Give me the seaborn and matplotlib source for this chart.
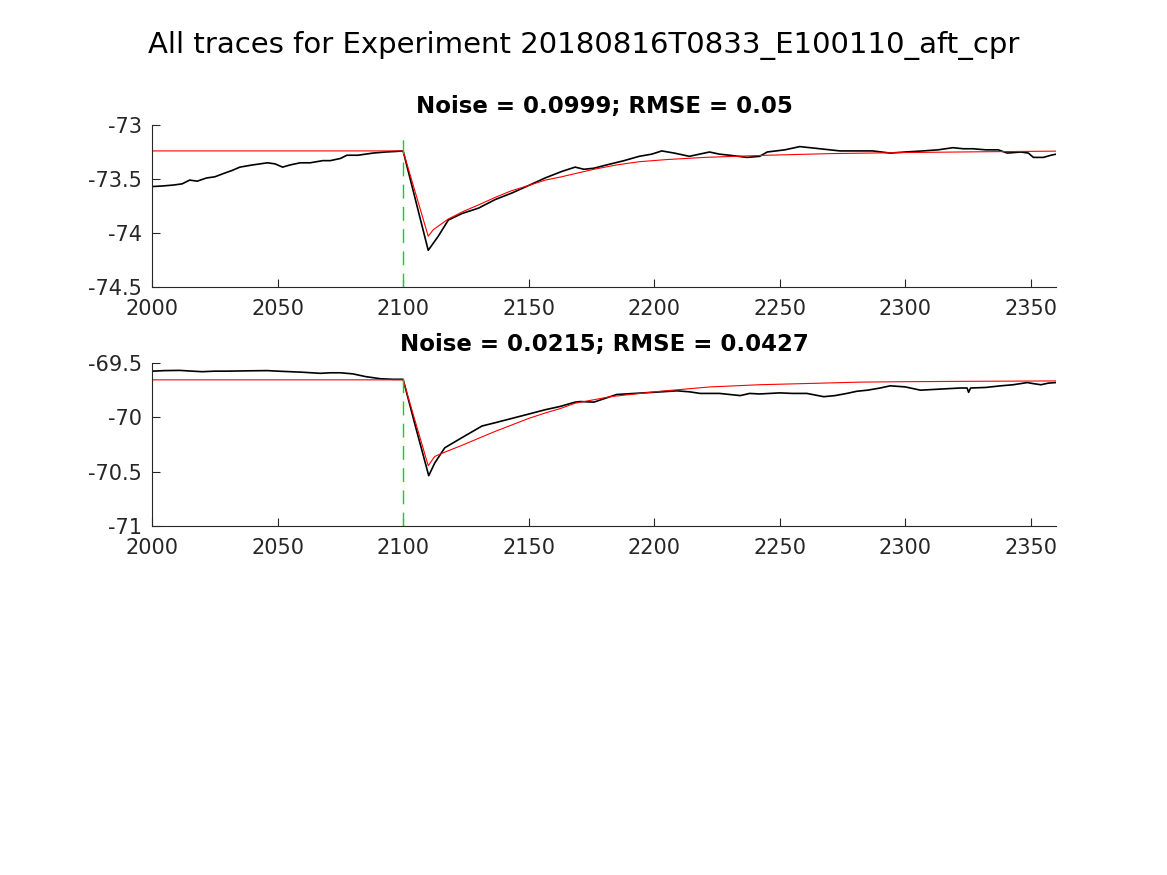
import numpy as np
import pandas as pd
import matplotlib
matplotlib.use("Agg")
import matplotlib.pyplot as plt
import seaborn as sns

# ---------------- data ----------------
suptitle_text = "All traces for Experiment 20180816T0833_E100110_aft_cpr"
titles = ["Noise = 0.0999; RMSE = 0.05", "Noise = 0.0215; RMSE = 0.0427"]
stim_time = 2100

# top trace (black)
top_x = [2000, 2004, 2008.5, 2012, 2015, 2018, 2021.8, 2025, 2028.4, 2032, 2035, 2040, 2046,
         2049, 2052, 2055, 2059, 2063, 2068, 2071, 2075, 2077.6, 2082, 2088, 2093, 2097, 2100,
         2105, 2110, 2114, 2118, 2123.4, 2130, 2136.7, 2143.3, 2150, 2156.6, 2163.2, 2168.5,
         2172, 2176, 2181, 2188, 2194, 2199, 2203, 2208, 2214, 2218, 2222, 2226, 2230, 2237,
         2242, 2245, 2252, 2258, 2262, 2266, 2274, 2280, 2287, 2294, 2300, 2307, 2313, 2319,
         2323, 2327, 2332, 2337, 2340.6, 2346, 2349, 2351, 2355, 2358, 2360]
top_y = [-73.57, -73.565, -73.556, -73.545, -73.51, -73.52, -73.49, -73.48, -73.45, -73.42,
         -73.39, -73.37, -73.35, -73.36, -73.39, -73.37, -73.35, -73.35, -73.33, -73.33, -73.31,
         -73.28, -73.28, -73.26, -73.25, -73.245, -73.24,
         -73.70, -74.16, -74.03, -73.88, -73.82, -73.77, -73.69, -73.63, -73.56, -73.49, -73.43,
         -73.39, -73.41, -73.40, -73.37, -73.33, -73.29, -73.27, -73.24, -73.26, -73.29, -73.27,
         -73.25, -73.27, -73.28, -73.30, -73.29, -73.25, -73.23, -73.20, -73.21, -73.22, -73.24,
         -73.24, -73.24, -73.26, -73.25, -73.24, -73.23, -73.21, -73.22, -73.22, -73.23, -73.23,
         -73.26, -73.25, -73.26, -73.30, -73.30, -73.28, -73.27]

# top fit (red)
top_fit_x = [2000, 2100, 2110, 2112, 2118, 2124, 2130, 2136.7, 2143, 2150, 2156.6, 2163,
             2168.5, 2176, 2185, 2194, 2205, 2220, 2245, 2270, 2300, 2330, 2360]
top_fit_y = [-73.24, -73.24, -74.03, -73.97, -73.87, -73.80, -73.74, -73.67, -73.61, -73.56,
             -73.51, -73.48, -73.45, -73.41, -73.37, -73.34, -73.32, -73.30, -73.28, -73.265,
             -73.255, -73.248, -73.242]

# bottom trace (black)
bot_x = [2000, 2005, 2011, 2016, 2020, 2025, 2030, 2038, 2046, 2050, 2055, 2060, 2067, 2071,
         2075, 2080, 2085, 2091, 2096, 2100, 2105, 2110.2, 2112.6, 2116.6, 2123.2, 2131.4,
         2136.6, 2143.3, 2150, 2156.6, 2162.5, 2168.5, 2170.5, 2176, 2185, 2195.7, 2203, 2209,
         2214, 2218.3, 2226, 2234.3, 2238, 2242, 2250, 2255, 2260.8, 2267.5, 2272, 2276.7,
         2280.7, 2285, 2290, 2294, 2300, 2306, 2310, 2314, 2318, 2322, 2324.6, 2325.2, 2326,
         2332, 2338, 2343, 2348.6, 2351, 2354, 2357, 2360]
bot_y = [-69.575, -69.57, -69.568, -69.575, -69.58, -69.575, -69.575, -69.572, -69.57, -69.575,
         -69.58, -69.585, -69.595, -69.59, -69.59, -69.60, -69.625, -69.645, -69.65, -69.65,
         -70.09, -70.537, -70.42, -70.28, -70.19, -70.08, -70.05, -70.01, -69.97, -69.93, -69.90,
         -69.86, -69.855, -69.86, -69.79, -69.775, -69.765, -69.756, -69.765, -69.78, -69.78,
         -69.80, -69.78, -69.785, -69.775, -69.78, -69.78, -69.81, -69.80, -69.78, -69.76,
         -69.75, -69.73, -69.71, -69.72, -69.75, -69.745, -69.74, -69.735, -69.73, -69.73,
         -69.77, -69.73, -69.725, -69.71, -69.70, -69.68, -69.69, -69.70, -69.685, -69.68]

# bottom fit (red)
bot_fit_x = [2000, 2100, 2110, 2112.6, 2116.6, 2123.2, 2131.4, 2136.6, 2143.3, 2150, 2156.6,
             2162.5, 2168.5, 2182.5, 2202.4, 2222.3, 2242, 2262, 2282, 2300, 2330, 2360]
bot_fit_y = [-69.655, -69.655, -70.445, -70.36, -70.32, -70.26, -70.18, -70.13, -70.07, -70.01,
             -69.96, -69.92, -69.87, -69.81, -69.76, -69.72, -69.70, -69.688, -69.676, -69.672,
             -69.668, -69.665]

# stimulus marker vertical extents (data units)
stim_span_top = (-74.5, -73.08)
stim_span_bot = (-71.0, -69.58)

xlims = (2000, 2360)
ylims = [(-74.5, -73.0), (-71.0, -69.5)]
yticks = [[-74.5, -74, -73.5, -73], [-71, -70.5, -70, -69.5]]
xticks = [2000, 2050, 2100, 2150, 2200, 2250, 2300, 2350]

# ---------------- styling ----------------
sns.set_theme(style="ticks")
plt.rcParams["font.family"] = ["DejaVu Sans"]
plt.rcParams["axes.unicode_minus"] = False
plt.rcParams["lines.scale_dashes"] = False
axcol = "#262626"

fig = plt.figure(figsize=(11.67, 8.75), dpi=100)
W, H = 1167, 875
ax_px = [(152, 125, 1056, 287), (152, 363, 1056, 526)]

traces = [(top_x, top_y, top_fit_x, top_fit_y, stim_span_top),
          (bot_x, bot_y, bot_fit_x, bot_fit_y, stim_span_bot)]

for i, (l, t, r, b) in enumerate(ax_px):
    ax = fig.add_axes([l / W, 1 - b / H, (r - l) / W, (b - t) / H])
    tx, ty, fx, fy, span = traces[i]
    df = pd.DataFrame({"x": tx, "y": ty})
    dff = pd.DataFrame({"x": fx, "y": fy})
    sns.lineplot(data=df, x="x", y="y", ax=ax, color="black", lw=1.2,
                 estimator=None, sort=False)
    sns.lineplot(data=dff, x="x", y="y", ax=ax, color="#ff0000", lw=0.8,
                 estimator=None, sort=False)
    ax.plot([stim_time, stim_time], list(span), color="#00dd00", lw=1.0,
            linestyle=(0, (10, 6)))
    ax.set_xlim(*xlims)
    ax.set_ylim(*ylims[i])
    ax.set_xticks(xticks)
    ax.set_yticks(yticks[i])
    ax.set_xticklabels([f"{v:g}" for v in xticks])
    ax.set_yticklabels([f"{v:g}" for v in yticks[i]])
    ax.set_xlabel("")
    ax.set_ylabel("")
    for s in ["top", "right"]:
        ax.spines[s].set_visible(False)
    for s in ["left", "bottom"]:
        ax.spines[s].set_color(axcol)
        ax.spines[s].set_linewidth(0.8)
    ax.tick_params(direction="in", length=6, width=0.8, colors=axcol,
                   labelsize=15)
    ax.tick_params(axis="x", pad=8.5)
    ax.tick_params(axis="y", pad=7)
    ax.set_title(titles[i], fontsize=16.5, fontweight="bold", pad=9, color="black")

fig.suptitle(suptitle_text, x=0.5, y=1 - 45 / H, va="center", fontsize=21,
             color="black")
fig.savefig("out.png", dpi=100, facecolor="white")
